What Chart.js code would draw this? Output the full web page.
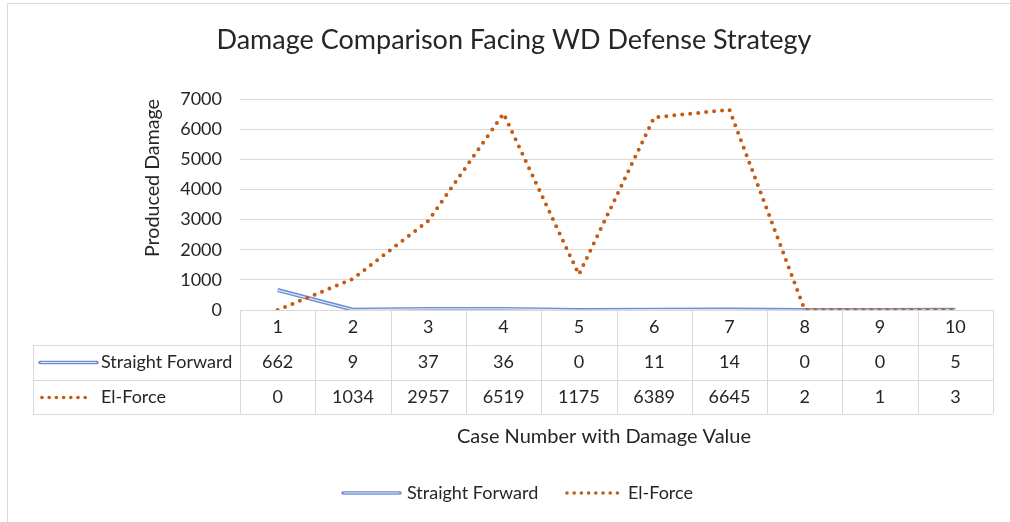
<!DOCTYPE html>
<html>
<head>
<meta charset="utf-8">
<script src="https://cdn.jsdelivr.net/npm/chart.js@4"></script>
<style>
  body { margin: 0; background: #fff; }
  #wrap { position: relative; width: 1010px; height: 522px; }
</style>
</head>
<body>
<div id="wrap"><canvas id="chart_damage" width="1010" height="522"></canvas></div>
<script>
var case_labels = ['1', '2', '3', '4', '5', '6', '7', '8', '9', '10']
var straight_forward = [662, 9, 37, 36, 0, 11, 14, 0, 0, 5]
var el_force = [0, 1034, 2957, 6519, 1175, 6389, 6645, 2, 1, 3]
var y_ticks = [0, 1000, 2000, 3000, 4000, 5000, 6000, 7000]

var FONT = 'Lato, "Open Sans", sans-serif'
var BLUE = '#6d8fd2'
var BLUE_INNER = '#dfe7f6'
var BROWN = '#c55a11'
var GRID = '#d9d9d9'
var TEXT = '#262626'

// title, axis titles, data table and legend drawn around the plot area
var table_plugin = {
    id: 'table_plugin',
    afterDraw: function (chart) {
        var ctx = chart.ctx
        var xs = chart.scales.x
        var area = chart.chartArea
        var left = area.left, right = area.right
        var colW = (right - left) / case_labels.length
        var rowTop = area.bottom, rowH = 35
        var tableLeft = 33

        ctx.save()
        // frame of the chart
        ctx.strokeStyle = GRID
        ctx.lineWidth = 1
        ctx.beginPath()
        ctx.moveTo(7.5, 522)
        ctx.lineTo(7.5, 3.5)
        ctx.lineTo(1010, 3.5)
        ctx.stroke()

        // table lines
        ctx.beginPath()
        ctx.moveTo(left, rowTop + 0.5); ctx.lineTo(right, rowTop + 0.5)
        for (var r = 1; r <= 3; r++) {
            var y = Math.round(rowTop + r * rowH - (r == 3 ? 1 : 0)) + 0.5
            ctx.moveTo(tableLeft, y); ctx.lineTo(right, y)
        }
        for (var i = 0; i <= case_labels.length; i++) {
            var x = Math.round(left + i * colW) + 0.5
            ctx.moveTo(x, rowTop); ctx.lineTo(x, rowTop + 3 * rowH - 1)
        }
        ctx.moveTo(tableLeft + 0.5, rowTop + rowH); ctx.lineTo(tableLeft + 0.5, rowTop + 3 * rowH - 1)
        ctx.stroke()

        // title
        ctx.fillStyle = TEXT
        ctx.textAlign = 'center'
        ctx.textBaseline = 'middle'
        ctx.font = '27px ' + FONT
        ctx.fillText('Damage Comparison Facing WD Defense Strategy', 514, 40)

        // table text
        ctx.font = '18px ' + FONT
        for (var i = 0; i < case_labels.length; i++) {
            var cx = xs.getPixelForValue(i)
            ctx.fillText(case_labels[i], cx, rowTop + rowH * 0.5)
            ctx.fillText(String(straight_forward[i]), cx, rowTop + rowH * 1.5)
            ctx.fillText(String(el_force[i]), cx, rowTop + rowH * 2.5)
        }

        // series keys in the table
        ctx.textAlign = 'left'
        ctx.fillText('Straight Forward', 101, rowTop + rowH * 1.5)
        ctx.fillText('El-Force', 101, rowTop + rowH * 2.5)
        draw_blue_key(ctx, 40, 97, rowTop + rowH * 1.5)
        draw_dot_key(ctx, 42, 92, rowTop + rowH * 2.5)

        // bottom legend
        draw_blue_key(ctx, 343, 400, 493)
        ctx.fillText('Straight Forward', 407, 493)
        draw_dot_key(ctx, 567, 618, 493)
        ctx.fillText('El-Force', 628, 493)

        // x axis title
        ctx.textAlign = 'center'
        ctx.font = '20px ' + FONT
        ctx.fillText('Case Number with Damage Value', 604, 437)

        // y axis title
        ctx.save()
        ctx.translate(153, 178)
        ctx.rotate(-Math.PI / 2)
        var w = ctx.measureText('Produced Damage').width
        ctx.scale(158 / w, 1)
        ctx.fillText('Produced Damage', 0, 0)
        ctx.restore()
        ctx.restore()
    }
}

function draw_blue_key(ctx, x0, x1, y) {
    ctx.save()
    ctx.strokeStyle = BLUE
    ctx.lineWidth = 3.5
    ctx.lineCap = 'round'
    ctx.beginPath(); ctx.moveTo(x0, y); ctx.lineTo(x1, y); ctx.stroke()
    ctx.strokeStyle = BLUE_INNER
    ctx.lineWidth = 1
    ctx.beginPath(); ctx.moveTo(x0 + 1, y); ctx.lineTo(x1 - 1, y); ctx.stroke()
    ctx.restore()
}

function draw_dot_key(ctx, x0, x1, y) {
    ctx.save()
    ctx.fillStyle = BROWN
    for (var x = x0; x <= x1 + 0.1; x += 7.2) {
        ctx.beginPath(); ctx.arc(x, y, 1.8, 0, Math.PI * 2); ctx.fill()
    }
    ctx.restore()
}

var chart_damage = new Chart(document.getElementById('chart_damage'), {
    type: 'line',
    data: {
        labels: case_labels,
        datasets: [
            {
                label: 'Straight Forward',
                data: straight_forward,
                borderColor: BLUE,
                borderWidth: 4,
                pointRadius: 0,
                tension: 0,
                order: 3
            },
            {
                label: 'Straight Forward inner',
                data: straight_forward,
                borderColor: BLUE_INNER,
                borderWidth: 1.2,
                pointRadius: 0,
                tension: 0,
                order: 2
            },
            {
                label: 'El-Force',
                data: el_force,
                borderColor: BROWN,
                borderWidth: 4,
                borderDash: [0, 8],
                borderCapStyle: 'round',
                pointRadius: 0,
                tension: 0,
                order: 1
            }
        ]
    },
    options: {
        responsive: false,
        animation: false,
        layout: {
            padding: { left: 135, right: 17, top: 99, bottom: 0 }
        },
        plugins: {
            legend: { display: false },
            tooltip: { enabled: false },
            title: { display: false }
        },
        scales: {
            x: {
                offset: true,
                grid: { display: false },
                border: { display: false },
                ticks: { display: false },
                afterFit: function (scale) {
                    scale.height = 212
                }
            },
            y: {
                min: 0,
                max: 7000,
                afterBuildTicks: function (scale) {
                    scale.ticks = y_ticks.map(function (v) { return { value: v } })
                },
                grid: { color: GRID, drawTicks: false },
                border: { display: false },
                ticks: {
                    color: TEXT,
                    padding: 18,
                    font: { family: FONT, size: 18 },
                    callback: function (value) {
                        return String(value)
                    }
                },
                afterFit: function (scale) {
                    scale.width = 105
                }
            }
        }
    },
    plugins: [table_plugin]
})
</script>
</body>
</html>
